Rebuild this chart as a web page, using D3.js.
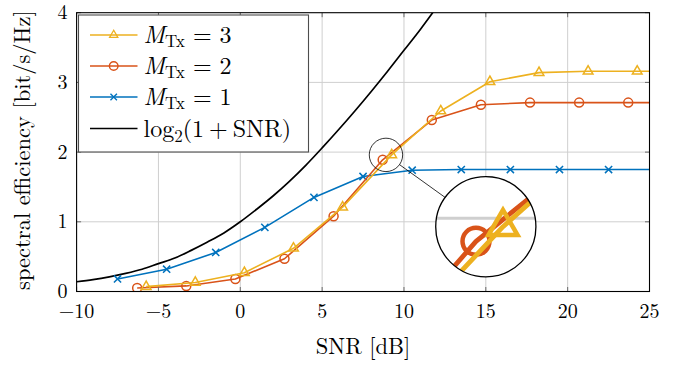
<!DOCTYPE html>
<html>
<head>
<meta charset="utf-8">
<script src="https://cdn.jsdelivr.net/npm/d3@7/dist/d3.min.js"></script>
<style>
  html, body { margin: 0; padding: 0; background: #fff; }
  svg { display: block; }
</style>
</head>
<body>
<svg id="chart" width="685" height="367"></svg>
<script>
// ---------- data ----------
const snrTicks = [-10, -5, 0, 5, 10, 15, 20, 25];
const effTicks = [0, 1, 2, 3, 4];

// M_Tx = 1 (blue, crosses); last point is the line end at 25 dB (no mark)
const snr1 = [-7.5, -4.5, -1.5, 1.5, 4.5, 7.5, 10.5, 13.5, 16.5, 19.5, 22.5, 25];
const eff1 = [0.18, 0.32, 0.56, 0.92, 1.35, 1.65, 1.74, 1.75, 1.75, 1.75, 1.75, 1.75];
// M_Tx = 2 (orange, circles)
const snr2 = [-6.3, -3.3, -0.3, 2.7, 5.7, 8.7, 11.7, 14.7, 17.7, 20.7, 23.7, 25];
const eff2 = [0.05, 0.08, 0.18, 0.47, 1.08, 1.89, 2.46, 2.68, 2.71, 2.71, 2.71, 2.71];
// M_Tx = 3 (yellow, triangles)
const snr3 = [-5.75, -2.75, 0.25, 3.25, 6.25, 9.25, 12.25, 15.25, 18.25, 21.25, 24.25, 25];
const eff3 = [0.07, 0.13, 0.27, 0.62, 1.21, 1.96, 2.59, 3.01, 3.14, 3.16, 3.16, 3.16];
// log2(1+SNR) reference curve (black)
const snrRef = [-10, -9, -8, -7, -6, -5, -4, -3, -2, -1, 0, 1, 2, 3, 4, 5, 6, 7, 8, 9, 10, 11, 12];
const effRef = [0.14, 0.17, 0.21, 0.26, 0.32, 0.40, 0.48, 0.59, 0.71, 0.84, 1.00, 1.18, 1.37, 1.58, 1.81, 2.06, 2.32, 2.59, 2.87, 3.16, 3.46, 3.76, 4.08];

const legendLabels = ["3", "2", "1"];

// ---------- font: pick the first installed serif ----------
function pickFont(cands) {
  const c = document.createElement("canvas").getContext("2d");
  const s = "spectral efficiency [bit/s/Hz] SNR 0123456789";
  for (const f of cands) {
    let found = true;
    for (const base of ["monospace", "sans-serif"]) {
      c.font = "40px " + base;
      const w0 = c.measureText(s).width;
      c.font = `40px "${f}", ${base}`;
      const w1 = c.measureText(s).width;
      if (Math.abs(w1 - w0) < 0.01) { found = false; break; }
    }
    if (found) return `"${f}", serif`;
  }
  return "serif";
}
const FONT = pickFont(["Latin Modern Roman", "CMU Serif", "Liberation Serif", "Tinos", "Times New Roman",
  "DejaVu Serif", "Noto Serif", "FreeSerif", "Nimbus Roman", "TeX Gyre Termes", "Noto Serif CJK SC", "Source Serif Pro"]);

// ---------- layout ----------
const W = 685, H = 367;
const L = 76.6, R = 649.5, T = 12.7, B = 291.5;
const colors = { m3: "#EDB120", m2: "#D95319", m1: "#0072BD", ref: "#000000" };

const svg = d3.select("#chart").attr("font-family", FONT);
const x = d3.scaleLinear().domain([-10, 25]).range([L, R]);
const y = d3.scaleLinear().domain([0, 4]).range([B, T]);

const defs = svg.append("defs");
defs.append("clipPath").attr("id", "plotClip")
  .append("rect").attr("x", L).attr("y", T).attr("width", R - L).attr("height", B - T);

// ---------- plot content (grid + series) ----------
const content = svg.append("g").attr("id", "plotContent");
const inner = content.append("g").attr("clip-path", "url(#plotClip)");
inner.append("rect").attr("x", L).attr("y", T).attr("width", R - L).attr("height", B - T).attr("fill", "#fff");

const gridColor = "#cfcfcf";
inner.append("g").selectAll("line").data(snrTicks.slice(1, -1)).join("line")
  .attr("x1", d => x(d)).attr("x2", d => x(d)).attr("y1", T).attr("y2", B)
  .attr("stroke", gridColor).attr("stroke-width", 1);
inner.append("g").selectAll("line").data(effTicks.slice(1, -1)).join("line")
  .attr("y1", d => y(d)).attr("y2", d => y(d)).attr("x1", L).attr("x2", R)
  .attr("stroke", gridColor).attr("stroke-width", 1);

const zip = (a, b) => a.map((v, i) => [v, b[i]]);
const line = d3.line().x(d => x(d[0])).y(d => y(d[1]));
const smooth = d3.line().x(d => x(d[0])).y(d => y(d[1])).curve(d3.curveMonotoneX);

// reference curve
inner.append("path").attr("d", smooth(zip(snrRef, effRef)))
  .attr("fill", "none").attr("stroke", colors.ref).attr("stroke-width", 1.7);

function drawMark(g, type, cx, cy, color, s) {
  if (type === "circle") {
    g.append("circle").attr("cx", cx).attr("cy", cy).attr("r", 4.5 * s)
      .attr("fill", "none").attr("stroke", color).attr("stroke-width", 1.5 * s);
  } else if (type === "tri") {
    const r = 5.6 * s;
    const pts = [[cx, cy - r], [cx - r * 0.866, cy + r * 0.5], [cx + r * 0.866, cy + r * 0.5]];
    g.append("path").attr("d", "M" + pts.map(p => p.join(",")).join("L") + "Z")
      .attr("fill", "none").attr("stroke", color).attr("stroke-width", 1.5 * s).attr("stroke-linejoin", "miter");
  } else if (type === "cross") {
    const r = 3.6 * s;
    g.append("path").attr("d", `M${cx - r},${cy - r}L${cx + r},${cy + r}M${cx - r},${cy + r}L${cx + r},${cy - r}`)
      .attr("fill", "none").attr("stroke", color).attr("stroke-width", 1.5 * s);
  }
}

function drawSeries(xs, ys, color, mark) {
  const g = inner.append("g");
  const pts = zip(xs, ys);
  g.append("path").attr("d", line(pts)).attr("fill", "none")
    .attr("stroke", color).attr("stroke-width", 1.6).attr("stroke-linejoin", "round");
  pts.filter(p => p[0] < 25).forEach(p => drawMark(g, mark, x(p[0]), y(p[1]), color, 1));
}
drawSeries(snr1, eff1, colors.m1, "cross");
drawSeries(snr2, eff2, colors.m2, "circle");
drawSeries(snr3, eff3, colors.m3, "tri");

// ---------- axes frame & ticks ----------
const axisG = svg.append("g");
const tickLen = 4.5, tickColor = "#6a6a6a";
snrTicks.forEach(t => {
  axisG.append("line").attr("x1", x(t)).attr("x2", x(t)).attr("y1", B).attr("y2", B - tickLen).attr("stroke", tickColor);
  axisG.append("line").attr("x1", x(t)).attr("x2", x(t)).attr("y1", T).attr("y2", T + tickLen).attr("stroke", tickColor);
});
effTicks.forEach(t => {
  axisG.append("line").attr("y1", y(t)).attr("y2", y(t)).attr("x1", L).attr("x2", L + tickLen).attr("stroke", tickColor);
  axisG.append("line").attr("y1", y(t)).attr("y2", y(t)).attr("x1", R).attr("x2", R - tickLen).attr("stroke", tickColor);
});
axisG.append("rect").attr("x", L).attr("y", T).attr("width", R - L).attr("height", B - T)
  .attr("fill", "none").attr("stroke", "#000").attr("stroke-width", 1.1);

const fmt = d => (d < 0 ? "\u2212" + Math.abs(d) : String(d));
axisG.append("g").selectAll("text").data(snrTicks).join("text")
  .attr("x", d => x(d)).attr("y", B + 26).attr("text-anchor", "middle")
  .attr("font-size", 20).text(fmt);
axisG.append("g").selectAll("text").data(effTicks).join("text")
  .attr("x", L - 9).attr("y", d => y(d) + 6.5).attr("text-anchor", "end")
  .attr("font-size", 20).text(fmt);

axisG.append("text").attr("x", (L + R) / 2).attr("y", 354).attr("text-anchor", "middle")
  .attr("font-size", 22.5).text("SNR [dB]");
axisG.append("text").attr("transform", `translate(30,${(T + B) / 2 - 2}) rotate(-90)`)
  .attr("text-anchor", "middle").attr("font-size", 22.5).text("spectral efficiency [bit/s/Hz]");

// ---------- legend ----------
const lg = svg.append("g");
const lx = 78.5, ly = 15, lw = 230, lh = 137;
lg.append("rect").attr("x", lx).attr("y", ly).attr("width", lw).attr("height", lh)
  .attr("fill", "#fff").attr("stroke", "#4d4d4d").attr("stroke-width", 1.1);
const entries = [
  { c: colors.m3, m: "tri", lab: legendLabels[0], s: 0.85 },
  { c: colors.m2, m: "circle", lab: legendLabels[1], s: 0.95 },
  { c: colors.m1, m: "cross", lab: legendLabels[2], s: 0.9 },
  { c: colors.ref, m: null, lab: null, s: 1 }
];
const rowY = [35, 66, 97, 128.5];
entries.forEach((e, i) => {
  const cy = rowY[i];
  lg.append("line").attr("x1", 90).attr("x2", 137.5).attr("y1", cy).attr("y2", cy)
    .attr("stroke", e.c).attr("stroke-width", e.m ? 1.6 : 1.7);
  if (e.m) drawMark(lg, e.m, 113.7, cy, e.c, e.s);
  const t = lg.append("text").attr("x", 143.5).attr("y", cy + 8).attr("font-size", 24);
  if (e.lab) {
    t.append("tspan").attr("font-style", "italic").text("M");
    t.append("tspan").attr("font-size", 17).attr("dy", 4).text("Tx");
    t.append("tspan").attr("dy", -4).attr("dx", 8).text("=");
    t.append("tspan").attr("dx", 8).text(e.lab);
  } else {
    t.append("tspan").text("log");
    t.append("tspan").attr("font-size", 17).attr("dy", 5).text("2");
    t.append("tspan").attr("dy", -5).text("(1");
    t.append("tspan").attr("dx", 5).text("+");
    t.append("tspan").attr("dx", 5).text("SNR)");
  }
});

// ---------- spy / magnifier ----------
const spyFrom = [8.9, 1.96];      // centre of small circle (data)
const spyTo = [15.0, 0.93];       // centre of big circle (data)
const spyR = 16.7, spyMag = 3;
const fx = x(spyFrom[0]), fy = y(spyFrom[1]);
const tx = x(spyTo[0]), ty = y(spyTo[1]);
const bigR = spyR * spyMag;
defs.append("clipPath").attr("id", "spyClip")
  .append("circle").attr("cx", tx).attr("cy", ty).attr("r", bigR);

const spy = svg.append("g");
spy.append("circle").attr("cx", fx).attr("cy", fy).attr("r", spyR)
  .attr("fill", "none").attr("stroke", "#000").attr("stroke-width", 0.8);
const dx = tx - fx, dy = ty - fy, dist = Math.hypot(dx, dy);
spy.append("line")
  .attr("x1", fx + dx / dist * spyR).attr("y1", fy + dy / dist * spyR)
  .attr("x2", tx - dx / dist * bigR).attr("y2", ty - dy / dist * bigR)
  .attr("stroke", "#000").attr("stroke-width", 0.8);
const mg = spy.append("g").attr("clip-path", "url(#spyClip)");
mg.append("circle").attr("cx", tx).attr("cy", ty).attr("r", bigR).attr("fill", "#fff");
mg.append("use").attr("href", "#plotContent")
  .attr("transform", `translate(${tx},${ty}) scale(${spyMag}) translate(${-fx},${-fy})`);
spy.append("circle").attr("cx", tx).attr("cy", ty).attr("r", bigR)
  .attr("fill", "none").attr("stroke", "#000").attr("stroke-width", 1.3);
</script>
</body>
</html>
